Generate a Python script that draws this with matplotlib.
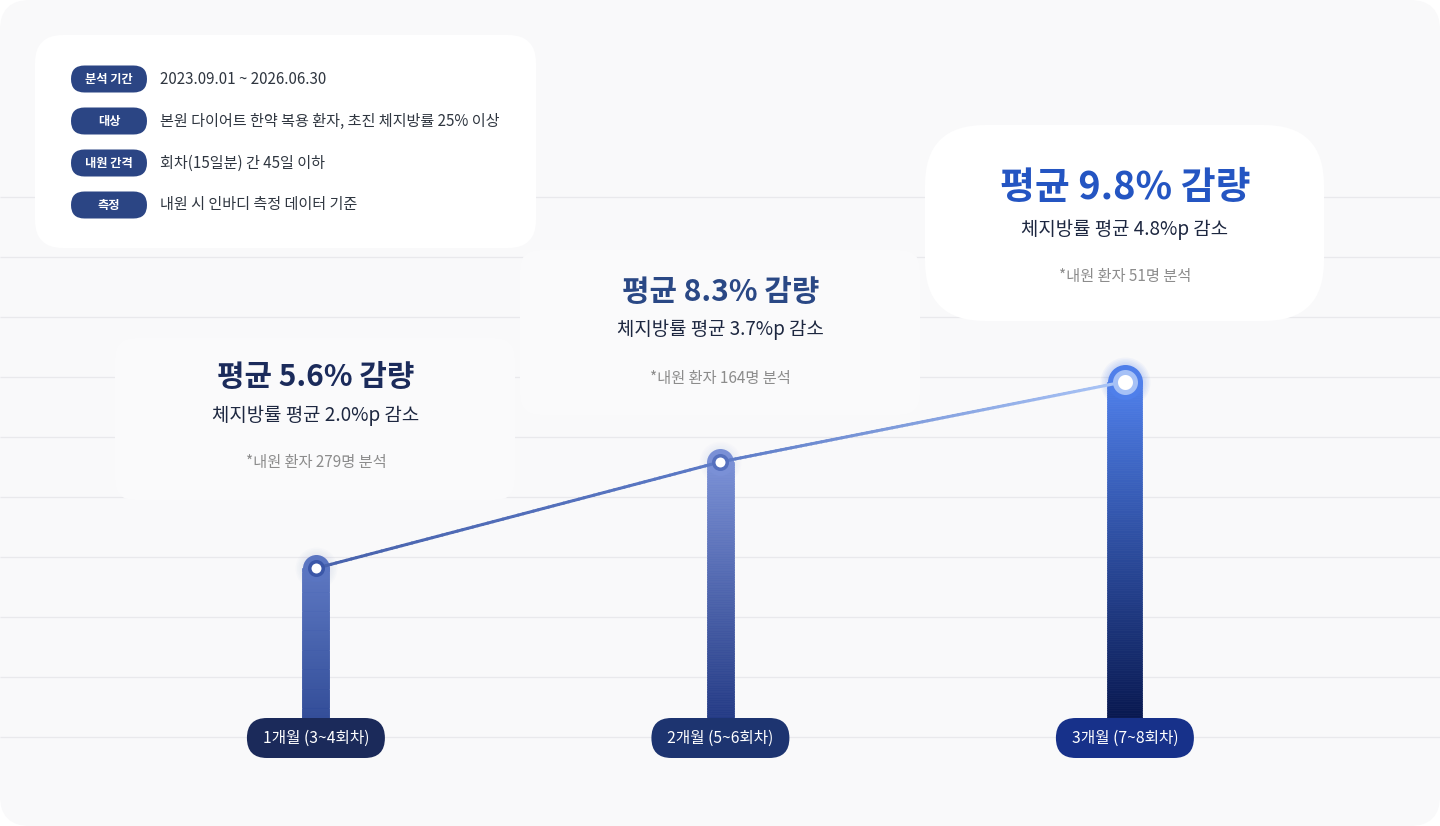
import numpy as np
import matplotlib.pyplot as plt
from matplotlib.patches import FancyBboxPatch
from matplotlib.collections import LineCollection
from matplotlib.colors import to_rgb

plt.rcParams['font.family'] = ['Noto Sans CJK KR', 'DejaVu Sans']

# data
periods = ['1개월 (3~4회차)', '2개월 (5~6회차)', '3개월 (7~8회차)']
weight_loss = [5.6, 8.3, 9.8]      # 평균 감량 %
fat_drop = [2.0, 3.7, 4.8]         # 체지방률 감소 %p
patients = [279, 164, 51]

info_tags = ['분석 기간', '대상', '내원 간격', '측정']
info_texts = ['2023.09.01 ~ 2026.06.30',
              '본원 다이어트 한약 복용 환자, 초진 체지방률 25% 이상',
              '회차(15일분) 간 45일 이하',
              '내원 시 인바디 측정 데이터 기준']

W, H = 1440, 826
fig = plt.figure(figsize=(W / 100, H / 100), dpi=100)
fig.patch.set_facecolor('white')


def rbox(a, x0, y0, x1, y1, r, fc, z=1):
    p = FancyBboxPatch((x0, y0), x1 - x0, y1 - y0,
                       boxstyle=f'round,pad=0,rounding_size={r}',
                       fc=fc, ec='none', zorder=z)
    a.add_patch(p)


# background layer (pixel coords)
bg = fig.add_axes([0, 0, 1, 1], zorder=0)
bg.set_xlim(0, W)
bg.set_ylim(H, 0)
bg.axis('off')
rbox(bg, 0, 0, W, H, 30, '#f9f9fa')
bg.hlines(np.arange(197, 738, 60), 0, W, color='#e9e9ec', lw=0.9, zorder=1)
rbox(bg, 115, 338, 515, 500, 20, '#fafafb', z=2)
rbox(bg, 520, 250, 920, 415, 20, '#fafafb', z=2)
rbox(bg, 35, 35, 536, 248, 28, 'white', z=3)
rbox(bg, 925, 125, 1324, 321, 60, 'white', z=3)

# data layer
b = 0.148


def fwd(v):
    return np.exp(b * np.asarray(v, dtype=float))


def inv(u):
    return np.log(np.clip(np.asarray(u, dtype=float), 1e-9, None)) / b


base_px = 737
ax = fig.add_axes([0, (H - base_px) / H, 1, base_px / H], zorder=2)
ax.set_yscale('function', functions=(fwd, inv))
ax.set_xlim(-0.781, 2.779)
ax.set_ylim(-4.6, 14.3)
ax.axis('off')
ax.patch.set_visible(False)
px_unit = W / (2.779 + 0.781)

x = np.arange(len(periods))
top_colors = ['#5a75c1', '#7a90d6', '#4f7fea']
bot_colors = ['#2a4592', '#1d347f', '#041247']
bar_px = [27, 27, 35]
glow_alpha = [0.02, 0.02, 0.05]
ylo = ax.get_ylim()[0]
n = 160
for i, v in enumerate(weight_loss):
    edges = inv(np.linspace(fwd(ylo), fwd(v), n + 1))
    t = np.linspace(0, 1, n)[:, None]
    c0, c1 = np.array(to_rgb(bot_colors[i])), np.array(to_rgb(top_colors[i]))
    cols = c0 + (c1 - c0) * t
    w = bar_px[i] / px_unit
    ax.bar(np.full(n, x[i]), np.diff(edges), width=w, bottom=edges[:-1],
           color=cols, edgecolor=cols, linewidth=0.5, zorder=2)
    # glow + round cap
    for g in range(5, 0, -1):
        ax.scatter([x[i]], [v], s=((bar_px[i] + g * 3) * 0.72) ** 2,
                   color=top_colors[i], alpha=glow_alpha[i], linewidth=0, zorder=1)
    ax.scatter([x[i]], [v], s=(bar_px[i] * 0.72) ** 2, color=top_colors[i],
               linewidth=0, zorder=2)

# connecting line with gradient
line_colors = ['#4862ac', '#5c7ac6', '#abc6f7']
segs, seg_cols = [], []
m = 80
for k in range(len(x) - 1):
    xs = np.linspace(x[k], x[k + 1], m + 1)
    vs = inv(np.linspace(fwd(weight_loss[k]), fwd(weight_loss[k + 1]), m + 1))
    c0, c1 = np.array(to_rgb(line_colors[k])), np.array(to_rgb(line_colors[k + 1]))
    for j in range(m):
        segs.append([(xs[j], vs[j]), (xs[j + 1], vs[j + 1])])
        seg_cols.append(c0 + (c1 - c0) * (j + 0.5) / m)
ax.add_collection(LineCollection(segs, colors=seg_cols, linewidths=2.2,
                                 capstyle='round', zorder=3))

ring_colors = ['#3b57a8', '#5570be', '#a6c1f6']
ring_px = [17, 17, 25]
ring_w = [3.5, 3.5, 5]
for i, v in enumerate(weight_loss):
    ax.scatter([x[i]], [v], s=((ring_px[i] - ring_w[i]) * 0.72) ** 2,
               facecolor='white', edgecolor=ring_colors[i],
               linewidths=ring_w[i] * 0.72, zorder=4)

# foreground layer (pixel coords)
fg = fig.add_axes([0, 0, 1, 1], zorder=3)
fg.set_xlim(0, W)
fg.set_ylim(H, 0)
fg.axis('off')
fg.patch.set_visible(False)

xc = ax.transData.transform(np.column_stack([x, weight_loss]))[:, 0]

pill_colors = ['#1b2a5a', '#1d3470', '#17318a']
for i, lab in enumerate(periods):
    rbox(fg, xc[i] - 69, 718, xc[i] + 69, 758, 20, pill_colors[i], z=2)
    fg.text(xc[i], 738, lab, color='white', fontsize=11.3, fontweight='medium',
            ha='center', va='center', zorder=3)

head_colors = ['#1b2b5b', '#2a4885', '#2455c2']
head_sizes = [21.5, 21.5, 27.3]
head_y = [377, 292, 187]
sub_y = [415, 330, 229]
note_y = [463, 378, 277]
for i in range(len(periods)):
    fg.text(xc[i], head_y[i], f'평균 {weight_loss[i]}% 감량', color=head_colors[i],
            fontsize=head_sizes[i], fontweight='bold', ha='center', va='center')
    fg.text(xc[i], sub_y[i], f'체지방률 평균 {fat_drop[i]}%p 감소', color='#1d2740',
            fontsize=13.6, fontweight='medium', ha='center', va='center')
    fg.text(xc[i], note_y[i], f'*내원 환자 {patients[i]}명 분석', color='#8c8c8c',
            fontsize=11, ha='center', va='center')

for k, (tag, txt) in enumerate(zip(info_tags, info_texts)):
    yc = 79 + 42 * k
    rbox(fg, 71, yc - 13.5, 147, yc + 13.5, 13.5, '#2b4584', z=2)
    fg.text(109, yc, tag, color='white', fontsize=8.8, fontweight='bold',
            ha='center', va='center', zorder=3)
    fg.text(160, yc, txt, color='#2f3640', fontsize=10.9, ha='left',
            va='center', zorder=3)

fig.savefig('out.png', dpi=100, facecolor='white')
